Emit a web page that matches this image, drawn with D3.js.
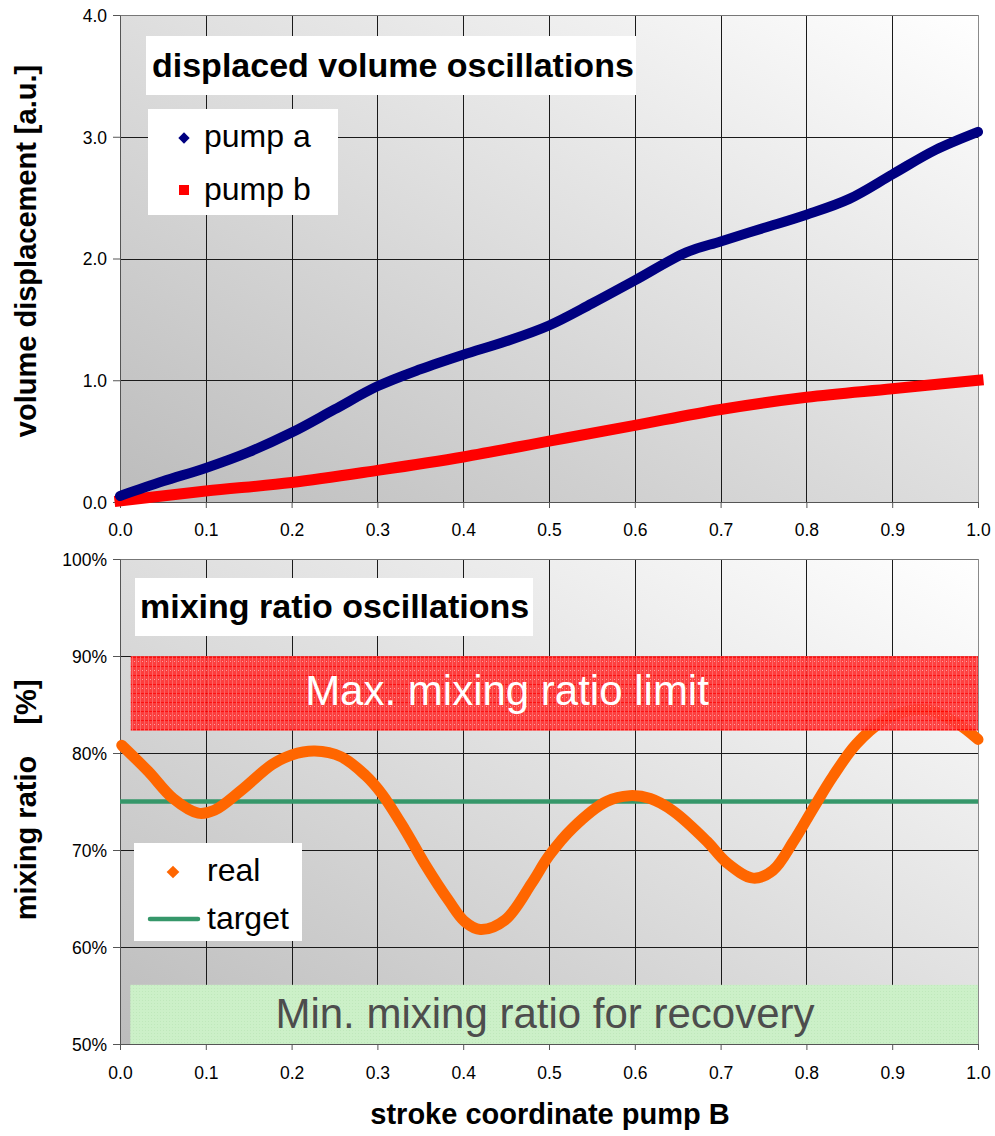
<!DOCTYPE html>
<html><head><meta charset="utf-8">
<script src="https://cdn.jsdelivr.net/npm/d3@7"></script>
<style>
html,body{margin:0;padding:0;background:#fff;}
svg{display:block;font-family:Arial,"Liberation Sans",sans-serif;}
</style></head>
<body>
<svg id="chart" width="995" height="1136"></svg>
<script>
// ---- data ----
const xTicks = [0,0.1,0.2,0.3,0.4,0.5,0.6,0.7,0.8,0.9,1.0];
const volTicks = [0,1,2,3,4];
const ratioTicks = [0.5,0.6,0.7,0.8,0.9,1.0];

const pumpAX = [0,0.05,0.1,0.15,0.2,0.25,0.3,0.35,0.4,0.45,0.5,0.55,0.6,0.66,0.7,0.75,0.8,0.85,0.9,0.95,1.0];
const pumpAY = [0.05,0.17,0.28,0.41,0.57,0.76,0.95,1.09,1.21,1.32,1.45,1.63,1.82,2.05,2.14,2.25,2.36,2.49,2.69,2.89,3.04];

const pumpBX = [0,0.1,0.2,0.3,0.4,0.5,0.6,0.7,0.8,0.9,1.0];
const pumpBY = [0.01,0.09,0.16,0.26,0.37,0.50,0.63,0.76,0.86,0.93,1.00];

const realX = [0.002,0.033,0.062,0.091,0.11,0.142,0.177,0.2,0.227,0.258,0.286,0.305,0.332,0.355,0.383,0.402,0.42,0.449,0.48,0.5,0.528,0.567,0.594,0.618,0.645,0.684,0.707,0.738,0.761,0.785,0.808,0.831,0.858,0.889,0.916,0.944,0.975,1.0];
const realY = [80.8,78.1,75.3,73.8,74.1,76.2,78.8,79.8,80.2,79.6,77.7,75.8,72.1,68.6,64.8,62.6,61.8,62.8,66.6,69.4,72.3,75.0,75.6,75.3,74.0,70.9,68.7,67.1,67.9,70.9,74.3,77.6,80.9,83.3,84.3,84.4,83.1,81.4];

const targetX = [0,1];
const targetY = [75,75];

const maxBandX = [0.0125,1.0];
const maxBandY = [82.3,90];
const minBandX = [0.012,1.0];
const minBandY = [50,56.1];

const labels = {
  topTitle: "displaced volume oscillations",
  botTitle: "mixing ratio oscillations",
  topYTitle: "volume displacement [a.u.]",
  botYTitleA: "mixing ratio",
  botYTitleB: "[%]",
  xTitle: "stroke coordinate pump B",
  maxText: "Max. mixing ratio limit",
  minText: "Min. mixing ratio for recovery"
};

// ---- layout ----
const svg = d3.select("#chart");
const L = 120, R = 978;
const topP = {t:15, b:502};
const botP = {t:559, b:1044};

const x = d3.scaleLinear().domain([0,1]).range([L,R]);
const yTop = d3.scaleLinear().domain([0,4]).range([topP.b, topP.t]);
const yBot = d3.scaleLinear().domain([0.5,1.0]).range([botP.b, botP.t]);

const defs = svg.append("defs");
const grad = defs.append("linearGradient").attr("id","bg")
  .attr("x1",0).attr("y1",1).attr("x2",1).attr("y2",0);
grad.append("stop").attr("offset","0%").attr("stop-color","#bcbcbc");
grad.append("stop").attr("offset","100%").attr("stop-color","#ffffff");

const pr = defs.append("pattern").attr("id","redpat").attr("patternUnits","userSpaceOnUse")
  .attr("width",4).attr("height",9);
pr.append("rect").attr("width",4).attr("height",9).attr("fill","#ff3030");
pr.append("rect").attr("x",0).attr("y",0).attr("width",4).attr("height",1).attr("fill","#ff0000");
pr.append("rect").attr("x",0).attr("y",0).attr("width",1).attr("height",9).attr("fill","#ff5a5a");
pr.append("rect").attr("x",2).attr("y",4).attr("width",1).attr("height",1).attr("fill","#ff9a9a");

const pg = defs.append("pattern").attr("id","greenpat").attr("patternUnits","userSpaceOnUse")
  .attr("width",3).attr("height",3);
pg.append("rect").attr("width",3).attr("height",3).attr("fill","#ccf0c8");
pg.append("rect").attr("x",1).attr("y",1).attr("width",1).attr("height",1).attr("fill","#bfe8bb");

function panel(yScale, ticks, fmt, p, xLabelY){
  const g = svg.append("g");
  g.append("rect").attr("x",L).attr("y",p.t).attr("width",R-L).attr("height",p.b-p.t).attr("fill","url(#bg)");
  g.selectAll(".vg").data(xTicks.slice(1)).join("line")
    .attr("x1",d=>Math.round(x(d))+0.5).attr("x2",d=>Math.round(x(d))+0.5)
    .attr("y1",p.t).attr("y2",p.b).attr("stroke","#1a1a1a").attr("stroke-width",1);
  g.selectAll(".hg").data(ticks.slice(1)).join("line")
    .attr("x1",L).attr("x2",R)
    .attr("y1",d=>Math.round(yScale(d))+0.5).attr("y2",d=>Math.round(yScale(d))+0.5)
    .attr("stroke","#1a1a1a").attr("stroke-width",1);
  g.append("line").attr("x1",R+0.5).attr("x2",R+0.5).attr("y1",p.t).attr("y2",p.b).attr("stroke","#8a8a8a");
  g.append("line").attr("x1",L).attr("x2",R).attr("y1",p.t+0.5).attr("y2",p.t+0.5).attr("stroke","#777");
  const ax = g.append("g").attr("transform",`translate(0,${p.b})`)
    .call(d3.axisBottom(x).tickValues(xTicks).tickFormat(d3.format(".1f")).tickSize(6).tickSizeOuter(0));
  ax.select(".domain").attr("stroke","#555");
  ax.selectAll(".tick line").attr("stroke","#555");
  ax.selectAll("text").attr("font-size","17.5px").attr("fill","#000").attr("dy",null).attr("y",xLabelY-p.b);
  const ay = g.append("g").attr("transform",`translate(${L},0)`)
    .call(d3.axisLeft(yScale).tickValues(ticks).tickFormat(fmt).tickSize(7).tickSizeOuter(0));
  ay.select(".domain").attr("stroke","#555");
  ay.selectAll(".tick line").attr("stroke","#555");
  ay.selectAll("text").attr("font-size","17.5px").attr("fill","#000").attr("x",-13).attr("dy","0.36em");
  return g;
}

const gTop = panel(yTop, volTicks, d3.format(".1f"), topP, 536);
const gBot = panel(yBot, ratioTicks, d3.format(".0%"), botP, 1079);

const diamond = (g, cx, cy, s, col) => g.append("rect").attr("x",-s/2).attr("y",-s/2)
  .attr("width",s).attr("height",s).attr("fill",col)
  .attr("transform",`translate(${cx},${cy}) rotate(45)`);

// ---- top series ----
const lineTop = d3.line().x(d=>x(d[0])).y(d=>yTop(d[1])).curve(d3.curveCatmullRom.alpha(0.5));
gTop.append("path").datum(d3.zip(pumpBX,pumpBY)).attr("d",lineTop)
  .attr("fill","none").attr("stroke","#ff0000").attr("stroke-width",11).attr("stroke-linecap","square");
gTop.append("path").datum(d3.zip(pumpAX,pumpAY)).attr("d",lineTop)
  .attr("fill","none").attr("stroke","#000080").attr("stroke-width",10).attr("stroke-linecap","round");

gTop.append("rect").attr("x",146).attr("y",36).attr("width",490).attr("height",59).attr("fill","#fff");
gTop.append("text").attr("x",152).attr("y",77).attr("font-size","34px").attr("font-weight","bold")
  .attr("fill","#000").text(labels.topTitle);
gTop.append("rect").attr("x",148).attr("y",109).attr("width",190).attr("height",106).attr("fill","#fff");
diamond(gTop, 184, 138, 8, "#000080");
gTop.append("rect").attr("x",179).attr("y",185).attr("width",10).attr("height",10).attr("fill","#ff0000");
gTop.append("text").attr("x",204).attr("y",147).attr("font-size","32px").text("pump a");
gTop.append("text").attr("x",204).attr("y",200).attr("font-size","32px").text("pump b");

// ---- bottom series ----
const lineBot = d3.line().x(d=>x(d[0])).y(d=>yBot(d[1]/100)).curve(d3.curveCatmullRom.alpha(0.5));
gBot.append("rect").attr("x",x(minBandX[0])).attr("width",x(minBandX[1])-x(minBandX[0]))
  .attr("y",yBot(minBandY[1]/100)).attr("height",yBot(minBandY[0]/100)-yBot(minBandY[1]/100))
  .attr("fill","url(#greenpat)");
gBot.append("path").datum(d3.zip(targetX,targetY)).attr("d",lineBot)
  .attr("fill","none").attr("stroke","#36976a").attr("stroke-width",4.5);
gBot.append("path").datum(d3.zip(realX,realY)).attr("d",lineBot)
  .attr("fill","none").attr("stroke","#ff6600").attr("stroke-width",11).attr("stroke-linecap","round");
gBot.append("rect").attr("x",x(maxBandX[0])).attr("width",x(maxBandX[1])-x(maxBandX[0]))
  .attr("y",yBot(maxBandY[1]/100)).attr("height",yBot(maxBandY[0]/100)-yBot(maxBandY[1]/100))
  .attr("fill","url(#redpat)").attr("opacity",0.92);
gBot.append("text").attr("x",507).attr("y",705).attr("text-anchor","middle").attr("font-size","42px")
  .attr("fill","#fff").text(labels.maxText);
gBot.append("text").attr("x",545).attr("y",1028).attr("text-anchor","middle").attr("font-size","42px")
  .attr("fill","#4d4d4d").text(labels.minText);

gBot.append("rect").attr("x",135).attr("y",578).attr("width",398).attr("height",58).attr("fill","#fff");
gBot.append("text").attr("x",140).attr("y",618).attr("font-size","34px").attr("font-weight","bold")
  .attr("fill","#000").text(labels.botTitle);
gBot.append("rect").attr("x",134).attr("y",843).attr("width",168).attr("height",98).attr("fill","#fff");
diamond(gBot, 173, 872, 9, "#ff6600");
gBot.append("line").attr("x1",150).attr("x2",198).attr("y1",919).attr("y2",919)
  .attr("stroke","#36976a").attr("stroke-width",4.5).attr("stroke-linecap","round");
gBot.append("text").attr("x",207).attr("y",881).attr("font-size","32px").text("real");
gBot.append("text").attr("x",207).attr("y",929).attr("font-size","32px").text("target");

// ---- axis titles ----
svg.append("text").attr("transform","translate(36,251) rotate(-90)").attr("text-anchor","middle")
  .attr("font-size","29px").attr("font-weight","bold").text(labels.topYTitle);
svg.append("text").attr("transform","translate(36,838) rotate(-90)").attr("text-anchor","middle")
  .attr("font-size","29px").attr("font-weight","bold").text(labels.botYTitleA);
svg.append("text").attr("transform","translate(36,702) rotate(-90)").attr("text-anchor","middle")
  .attr("font-size","29px").attr("font-weight","bold").text(labels.botYTitleB);
svg.append("text").attr("x",550).attr("y",1124).attr("text-anchor","middle")
  .attr("font-size","29px").attr("font-weight","bold").text(labels.xTitle);
</script>
</body></html>
